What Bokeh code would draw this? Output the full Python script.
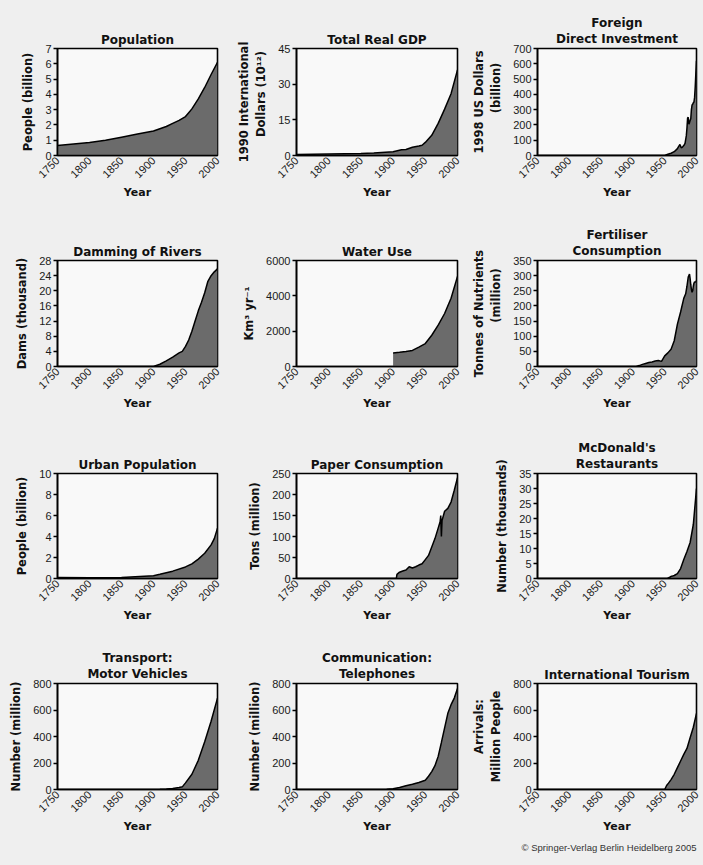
from math import pi
from bokeh.plotting import figure
from bokeh.layouts import gridplot
from bokeh.models import FixedTicker, Range1d, Title
from bokeh.embed import file_html
from bokeh.resources import INLINE

# ---------------- data ----------------
x_ticks = [1750, 1800, 1850, 1900, 1950, 2000]

pop_years = [1750, 1775, 1800, 1825, 1850, 1875, 1900, 1910, 1920, 1930, 1940, 1950, 1955, 1960, 1970, 1980, 1990, 2000]
pop_vals = [0.65, 0.75, 0.85, 1.0, 1.2, 1.4, 1.6, 1.75, 1.9, 2.1, 2.3, 2.55, 2.8, 3.05, 3.7, 4.45, 5.3, 6.1]

gdp_years = [1750, 1800, 1850, 1870, 1900, 1913, 1920, 1930, 1940, 1945, 1950, 1960, 1970, 1980, 1990, 2000]
gdp_vals = [0.4, 0.6, 0.8, 1.1, 1.6, 2.4, 2.5, 3.5, 4.0, 4.3, 5.5, 8.5, 13.5, 19.5, 26.0, 36.0]

fdi_years = [1750, 1950, 1955, 1960, 1965, 1970, 1972, 1974, 1976, 1978, 1980, 1982, 1984, 1985, 1986, 1987, 1988,
             1989, 1990, 1991, 1992, 1993, 1994, 1995, 1996, 1997, 1998, 1999, 2000]
fdi_vals = [0, 0, 8, 15, 25, 45, 60, 72, 50, 55, 65, 80, 130, 180, 245, 250, 205,
            215, 230, 240, 300, 330, 335, 345, 350, 380, 450, 540, 620]

dam_years = [1750, 1900, 1910, 1920, 1930, 1940, 1945, 1950, 1955, 1960, 1965, 1970, 1975, 1980, 1985, 1990, 1995, 2000]
dam_vals = [0, 0, 0.6, 1.5, 2.5, 3.6, 4.0, 5.3, 7.0, 9.3, 12.0, 14.7, 17.0, 19.5, 22.5, 24.0, 25.0, 25.8]

water_years = [1900, 1910, 1920, 1930, 1940, 1950, 1960, 1970, 1980, 1990, 2000]
water_vals = [760, 800, 850, 910, 1100, 1300, 1770, 2340, 3000, 3860, 5100]

fert_years = [1750, 1905, 1910, 1915, 1920, 1925, 1930, 1935, 1940, 1945, 1950, 1955, 1960, 1965, 1970, 1975, 1980,
              1983, 1985, 1987, 1988, 1989, 1990, 1991, 1992, 1993, 1994, 1995, 1996, 1997, 1998, 1999, 2000]
fert_vals = [0, 0, 3, 7, 10, 13, 15, 18, 20, 17, 35, 45, 57, 85, 140, 180, 225,
             240, 265, 295, 300, 305, 290, 270, 255, 245, 250, 265, 275, 280, 278, 280, 283]

urban_years = [1750, 1800, 1850, 1900, 1910, 1930, 1950, 1960, 1970, 1980, 1990, 1995, 2000]
urban_vals = [0.1, 0.07, 0.1, 0.26, 0.4, 0.7, 1.1, 1.4, 1.85, 2.4, 3.2, 3.8, 4.8]

paper_years = [1750, 1905, 1906, 1910, 1915, 1920, 1925, 1930, 1935, 1940, 1945, 1950, 1955, 1960, 1965, 1970,
               1973, 1974, 1975, 1976, 1980, 1985, 1990, 1995, 2000]
paper_vals = [0, 0, 10, 15, 18, 20, 28, 25, 28, 32, 35, 45, 55, 75, 95, 120,
              135, 150, 100, 138, 160, 167, 182, 210, 240]

mcd_years = [1750, 1954, 1955, 1958, 1960, 1962, 1965, 1970, 1975, 1980, 1985, 1990, 1995, 2000]
mcd_vals = [0, 0, 0.1, 0.4, 0.7, 0.8, 1.0, 1.6, 3.3, 6.3, 9.0, 12.0, 18.0, 30.0]

car_years = [1750, 1900, 1910, 1920, 1930, 1940, 1945, 1950, 1960, 1970, 1980, 1990, 2000]
car_vals = [0, 0, 1, 3, 8, 15, 20, 50, 115, 220, 360, 515, 690]

tel_years = [1750, 1875, 1880, 1890, 1900, 1910, 1920, 1930, 1940, 1950, 1955, 1960, 1965, 1970, 1975, 1980, 1985,
             1990, 1995, 2000]
tel_vals = [0, 0, 0.5, 2, 5, 15, 28, 40, 53, 70, 100, 135, 180, 250, 355, 465, 575, 640, 690, 762]

tour_years = [1750, 1950, 1953, 1956, 1960, 1965, 1970, 1975, 1980, 1985, 1990, 1995, 2000]
tour_vals = [0, 0, 30, 48, 75, 115, 165, 215, 265, 310, 390, 470, 575]

# ---------------- layout ----------------
COL_W = [234, 235, 234]
COL_L = [57, 62, 66]
COL_F = [160, 161, 161]
ROW_H = [210, 210, 210, 235]
ROW_T = [48, 50, 53, 53]
ROW_F = [107, 106, 105, 106]

PAGE = "#efefef"
INNER = "#f9f9f9"
FILL = "#6b6b6b"
NB = "\u00a0"


def style_title(t):
    t.align = "center"
    t.text_font = "DejaVu Sans"
    t.text_font_size = "12px"
    t.text_font_style = "bold"
    t.text_color = "#111111"


def panel(title, ylabel, years, vals, ymax, yticks, row, col):
    p = figure(width=COL_W[col], height=ROW_H[row],
               x_range=Range1d(1750, 2000), y_range=Range1d(0, ymax),
               output_backend="svg", toolbar_location=None,
               min_border_left=COL_L[col],
               min_border_right=COL_W[col] - COL_L[col] - COL_F[col],
               min_border_top=ROW_T[row],
               min_border_bottom=ROW_H[row] - ROW_T[row] - ROW_F[row],
               background_fill_color=INNER, border_fill_color=PAGE,
               outline_line_color="black", outline_line_width=1.6)
    p.varea(x=years, y1=[0] * len(years), y2=vals, fill_color=FILL)
    p.line(years, vals, line_color="black", line_width=1.5)
    p.grid.visible = False

    lines = title.split("\n")
    p.title.text = lines[0]
    style_title(p.title)
    if len(lines) > 1:
        p.title.standoff = -4
        t2 = Title(text=lines[1])
        style_title(t2)
        t2.standoff = 5
        p.add_layout(t2, "above")
    else:
        p.title.standoff = 4

    for ax in (p.xaxis[0], p.yaxis[0]):
        ax.axis_line_color = "black"
        ax.axis_line_width = 1.6
        ax.major_label_text_font = "Liberation Sans"
        ax.major_label_text_font_size = "11px"
        ax.major_label_text_color = "#1a1a1a"
        ax.axis_label_text_font = "DejaVu Sans"
        ax.axis_label_text_font_style = "bold"
        ax.axis_label_text_color = "#111111"
        ax.minor_tick_line_color = None
        ax.major_tick_in = 0

    xa = p.xaxis[0]
    xa.ticker = FixedTicker(ticks=x_ticks)
    xa.major_label_orientation = pi / 4
    xa.major_tick_out = 0
    xa.major_label_standoff = 3
    xa.axis_label = "Year"
    xa.axis_label_text_font_size = "11px"
    xa.axis_label_standoff = 2

    ya = p.yaxis[0]
    ya.ticker = FixedTicker(ticks=yticks)
    ya.major_tick_out = 4
    ya.major_tick_line_color = "black"
    ya.major_tick_line_width = 1.3
    ya.major_label_standoff = 2
    ya.axis_label = ylabel
    ya.axis_label_text_font_size = "11.5px"
    ya.axis_label_standoff = 7
    return p


p1 = panel("Population", "People (billion)", pop_years, pop_vals, 7, list(range(0, 8)), 0, 0)
p2 = panel("Total Real GDP", "1990 International\n" + NB * 4 + "Dollars (10¹²)", gdp_years, gdp_vals, 45,
           [0, 15, 30, 45], 0, 1)
p3 = panel("Foreign\nDirect Investment", "1998 US Dollars\n" + NB * 7 + "(billion)", fdi_years, fdi_vals, 700,
           list(range(0, 701, 100)), 0, 2)
p4 = panel("Damming of Rivers", "Dams (thousand)", dam_years, dam_vals, 28, list(range(0, 29, 4)), 1, 0)
p5 = panel("Water Use", "Km³ yr⁻¹", water_years, water_vals, 6000, [0, 2000, 4000, 6000], 1, 1)
p6 = panel("Fertiliser\nConsumption", "Tonnes of Nutrients\n" + NB * 9 + "(million)", fert_years, fert_vals, 350,
           list(range(0, 351, 50)), 1, 2)
p7 = panel("Urban Population", "People (billion)", urban_years, urban_vals, 10, [0, 2, 4, 6, 8, 10], 2, 0)
p8 = panel("Paper Consumption", "Tons (million)", paper_years, paper_vals, 250, list(range(0, 251, 50)), 2, 1)
p9 = panel("McDonald's\nRestaurants", "Number (thousands)", mcd_years, mcd_vals, 35, list(range(0, 36, 5)), 2, 2)
p10 = panel("Transport:\nMotor Vehicles", "Number (million)", car_years, car_vals, 800, [0, 200, 400, 600, 800], 3, 0)
p11 = panel("Communication:\nTelephones", "Number (million)", tel_years, tel_vals, 800, [0, 200, 400, 600, 800], 3, 1)
p12 = panel("International Tourism", NB * 5 + "Arrivals:\nMillion People", tour_years, tour_vals, 800,
            [0, 200, 400, 600, 800], 3, 2)

p12.add_layout(Title(text="© Springer-Verlag Berlin Heidelberg 2005", align="right",
                     text_font="Liberation Sans", text_font_size="9.5px",
                     text_font_style="normal", text_color="#333333", standoff=6), "below")

grid = gridplot([[p1, p2, p3], [p4, p5, p6], [p7, p8, p9], [p10, p11, p12]],
                toolbar_location=None)
grid.styles = {"background-color": PAGE}

open("out.html", "w").write(file_html(grid, INLINE))
